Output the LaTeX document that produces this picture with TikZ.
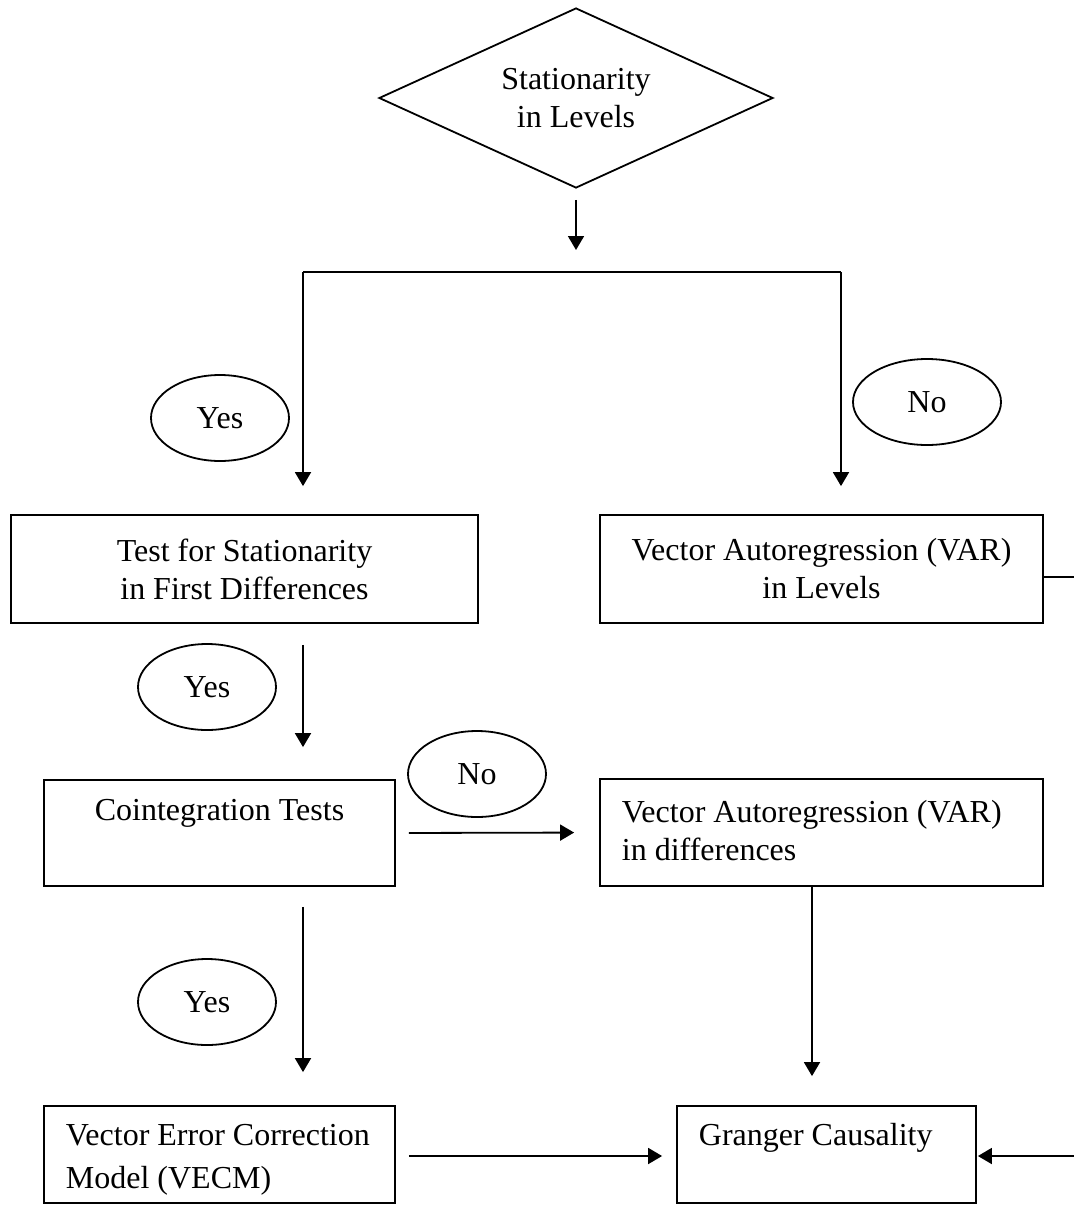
\documentclass[tikz,border=0pt]{standalone}
\usepackage{fontspec}
\setmainfont{Liberation Serif}
\usetikzlibrary{arrows.meta,shapes.geometric}

\begin{document}
\begin{tikzpicture}[x=0.5pt,y=-0.5pt,line width=0.9pt,
  every node/.style={font=\fontsize{16}{19}\selectfont},
  stepbox/.style={draw,rectangle,inner sep=0pt},
  answer/.style={draw,ellipse,minimum width=69pt,minimum height=43pt,inner sep=0pt},
  flow/.style={-{Triangle[length=7pt,width=8pt]}}]
\useasboundingbox (0,0) rectangle (1073,1205);
% top decision and split
\node[draw,diamond,aspect=2.2,inner sep=0pt,minimum width=197pt,minimum height=90pt,align=center] (levels) at (576,98) {Stationarity\\in Levels};
\coordinate (split) at (576,272);
\coordinate (splitL) at (303,272);
\coordinate (splitR) at (841,272);
\draw[flow,shorten <=5.5pt,shorten >=11pt] (levels.south) -- (split);
\draw (splitL) -- (splitR);
% second row
\node[stepbox,minimum width=233.5pt,minimum height=54pt,align=center] (firstdiff) at (244.5,569) {Test for Stationarity\\in First Differences};
\node[stepbox,minimum width=221.5pt,minimum height=54pt,align=center] (varlevels) at (821.5,569) {Vector Autoregression (VAR)\\in Levels};
\node[answer] (yes1) at (220,418) {Yes};
\node[answer,minimum width=74pt] (no1) at (927,402) {No};
\draw[flow,shorten >=14pt] (splitL) -- (splitL |- firstdiff.north);
\draw[flow,shorten >=14pt] (splitR) -- (splitR |- varlevels.north);
% third row
\node[stepbox,minimum width=175.5pt,minimum height=53pt] (coint) at (219.5,833) {};
\node[anchor=base] (cointtxt) at (219.5,820) {Cointegration Tests};
\node[stepbox,minimum width=221.5pt,minimum height=53.5pt] (vardiff) at (821.5,832.5) {};
\node[anchor=west,inner sep=0pt,align=left] (vardifftxt) at (621,831) {Vector Autoregression (VAR)\\in differences};
\node[answer] (yes2) at (207,687) {Yes};
\node[answer] (no2) at (477,774) {No};
\draw[flow,shorten <=10.5pt,shorten >=16pt] (splitL |- firstdiff.south) -- (splitL |- coint.north);
\draw[flow,shorten <=6.5pt,shorten >=12.5pt] (coint.east) -- (vardiff.west);
% bottom row
\node[stepbox,minimum width=175.5pt,minimum height=48.5pt] (vecm) at (219.5,1154.5) {};
\node[anchor=west,inner sep=0pt,align=left] (vecmtxt) at (65,1160) {Vector Error Correction\\[2.5pt]Model (VECM)};
\node[stepbox,minimum width=149.5pt,minimum height=48.5pt] (granger) at (826.5,1154.5) {};
\node[anchor=base west,inner sep=0pt] (grangertxt) at (698,1145) {Granger Causality};
\node[answer] (yes3) at (207,1002) {Yes};
\draw[flow,shorten <=10pt,shorten >=16.5pt] (splitL |- coint.south) -- (splitL |- vecm.north);
\draw[flow,shorten >=14.5pt] ([xshift=-4.75pt]vardiff.south) -- ([xshift=-4.75pt]vardiff.south |- granger.north);
\draw[flow,shorten <=6.5pt,shorten >=7pt] ([yshift=-0.75pt]vecm.east) -- ([yshift=-0.75pt]granger.west);
% loop from VAR in levels, runs off the right edge
\coordinate (loopend) at (1090,1156);
\draw[flow,shorten >=0.5pt] ([yshift=-4pt]varlevels.east) -- (1090,577) -- (loopend) -- (granger.east |- loopend);
\end{tikzpicture}
\end{document}
